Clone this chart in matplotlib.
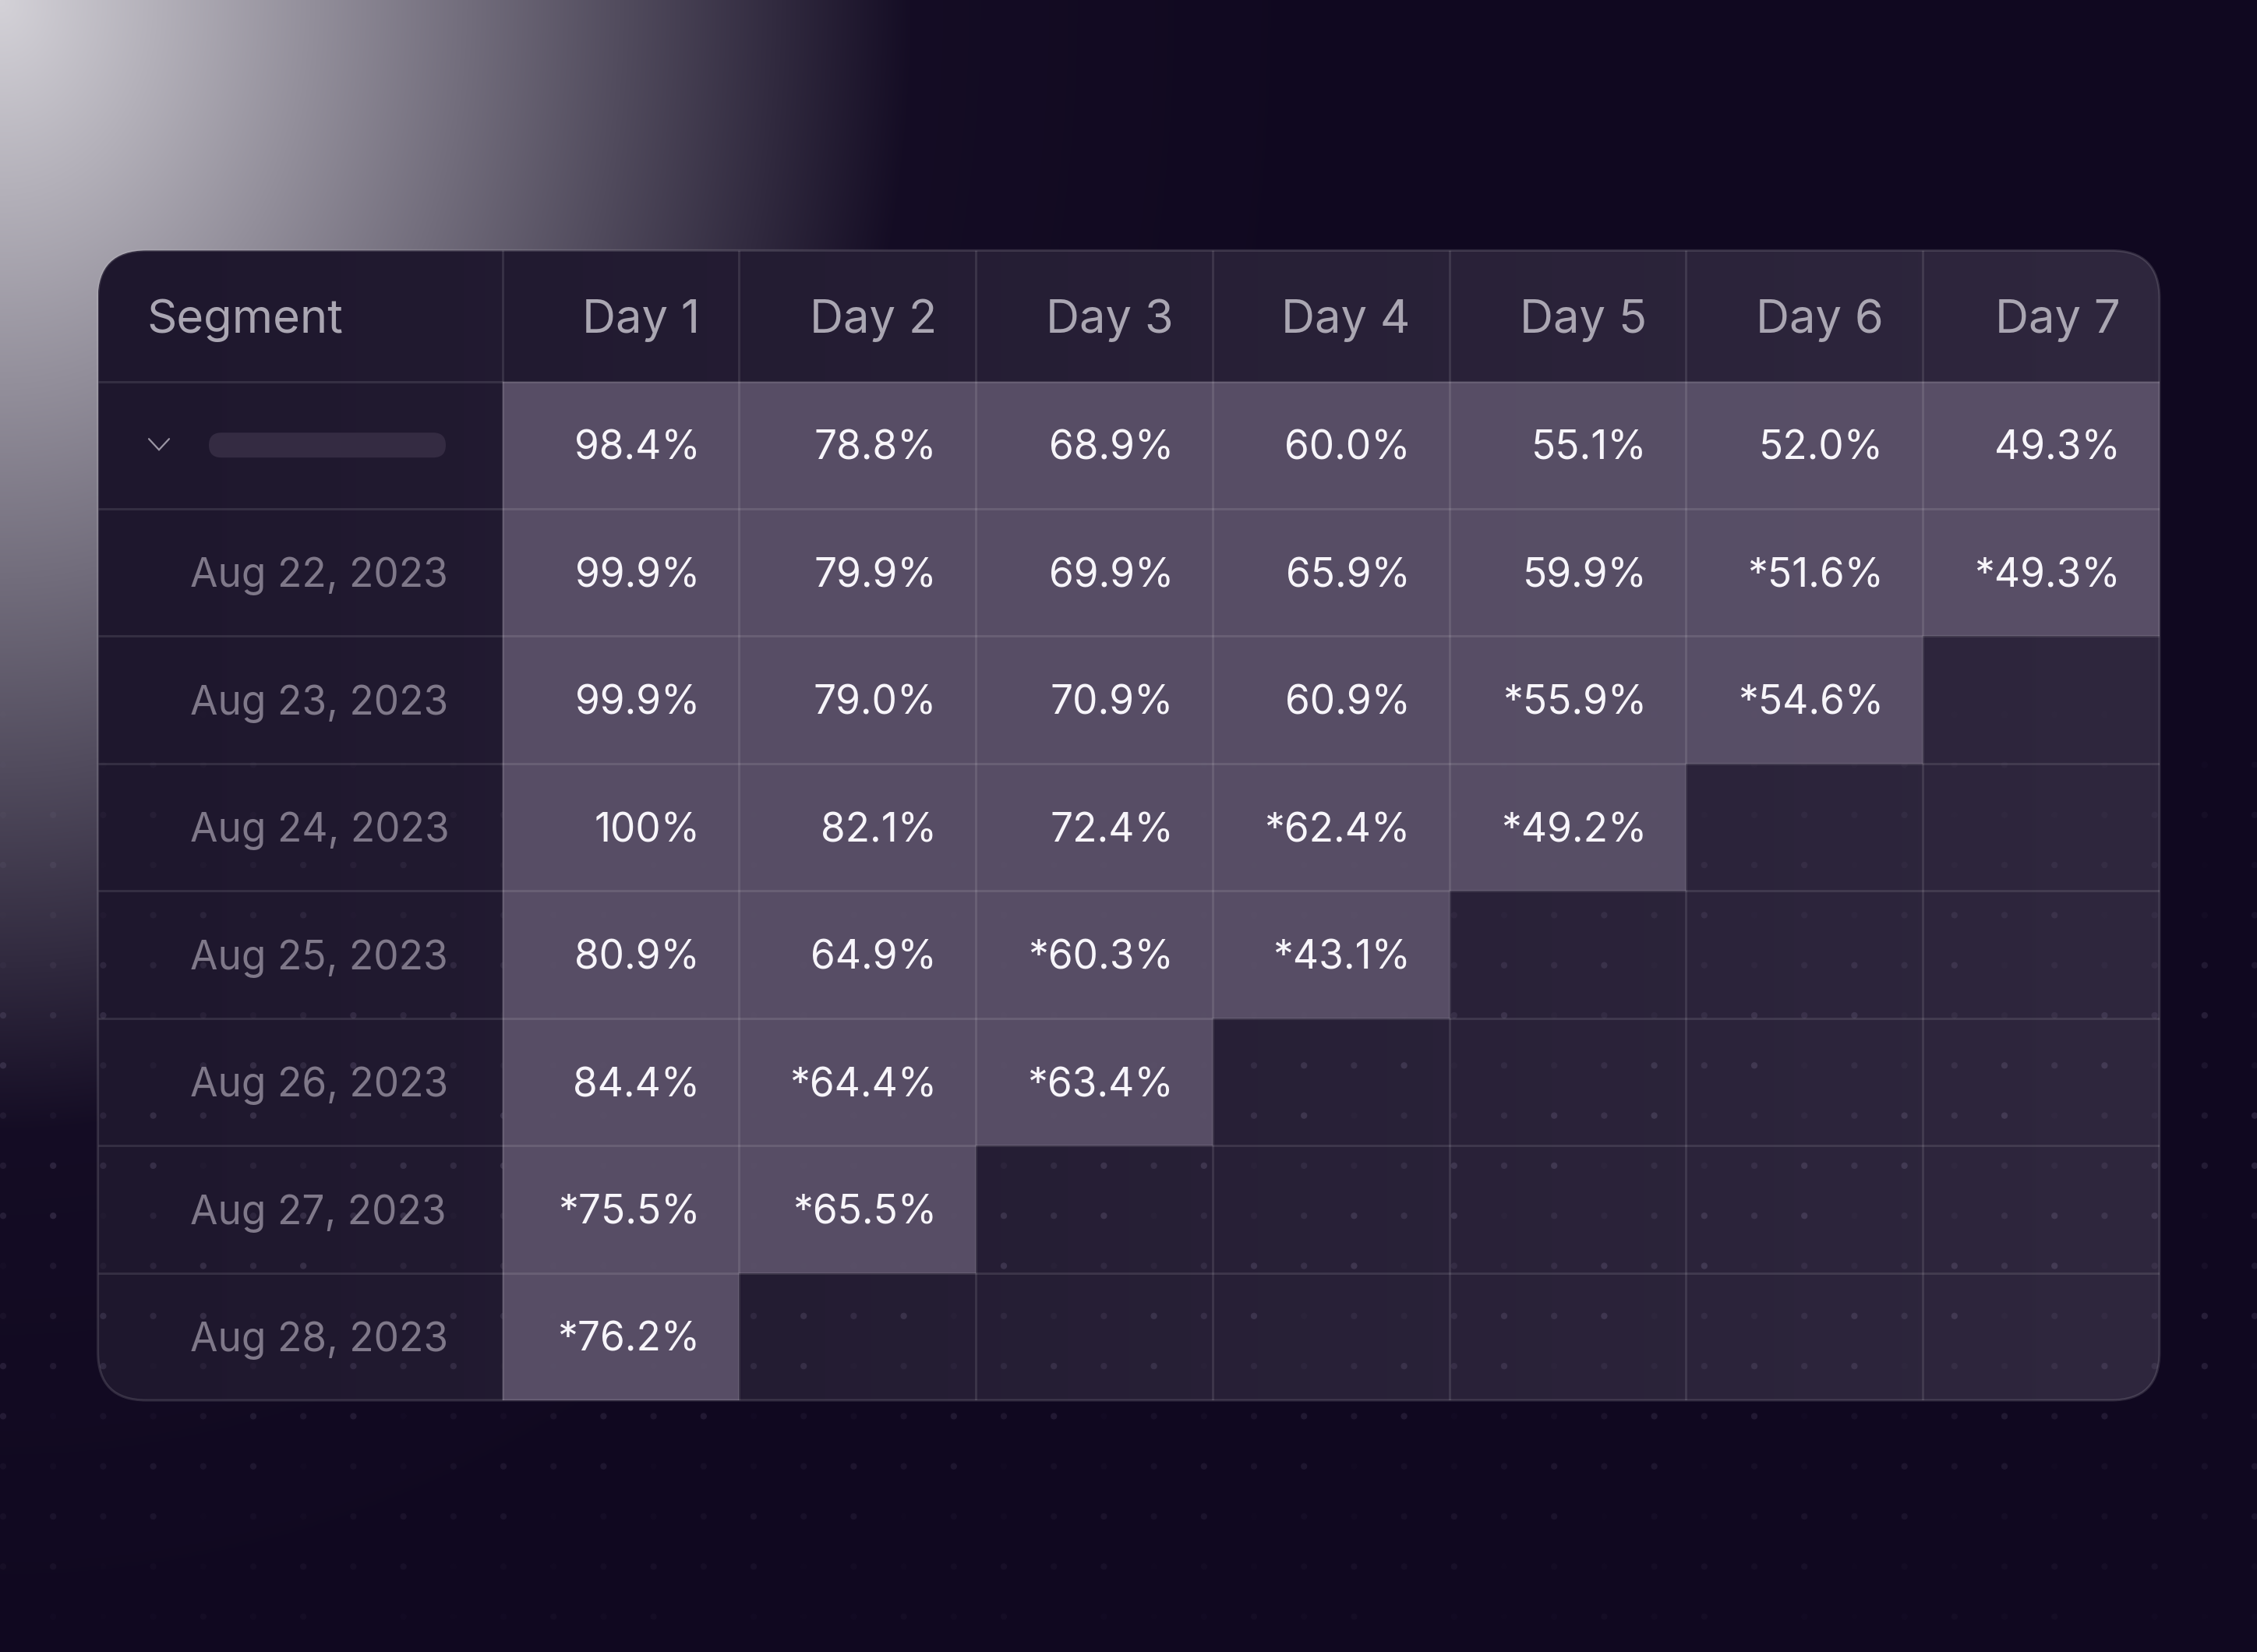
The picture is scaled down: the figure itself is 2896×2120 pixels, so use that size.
import numpy as np
import matplotlib.pyplot as plt
from matplotlib.patches import FancyBboxPatch, Rectangle

# ---- data ----
days = ["Day 1", "Day 2", "Day 3", "Day 4", "Day 5", "Day 6", "Day 7"]
cohorts = ["Aug 22, 2023", "Aug 23, 2023", "Aug 24, 2023", "Aug 25, 2023",
           "Aug 26, 2023", "Aug 27, 2023", "Aug 28, 2023"]
overall = [98.4, 78.8, 68.9, 60.0, 55.1, 52.0, 49.3]
retention = [
    [99.9, 79.9, 69.9, 65.9, 59.9, 51.6, 49.3],
    [99.9, 79.0, 70.9, 60.9, 55.9, 54.6],
    [100, 82.1, 72.4, 62.4, 49.2],
    [80.9, 64.9, 60.3, 43.1],
    [84.4, 64.4, 63.4],
    [75.5, 65.5],
    [76.2],
]
# number of trailing (estimated) values per cohort, shown with a "*"
estimated = [2, 2, 2, 2, 2, 2, 1]

W, H = 2896, 2120
FONT = ["Inter", "DejaVu Sans"]


def fmt(v, star=False):
    s = "100%" if v == 100 else f"{v:.1f}%"
    return ("*" + s) if star else s


fig = plt.figure(figsize=(W / 100, H / 100), dpi=100)
ax = fig.add_axes([0, 0, 1, 1])
ax.set_xlim(0, W)
ax.set_ylim(H, 0)
ax.axis("off")

# ---- background with glow in the top-left corner ----
gx, gy = np.meshgrid(np.linspace(0, W, 1448), np.linspace(0, H, 1060))
t = np.sqrt((gx / 1170.0) ** 2 + (gy / 1450.0) ** 2)
f = 0.93 * np.clip(1 - t, 0, 1) + 0.07 * np.clip(1 - t / 1.5, 0, 1)
light = np.array([212, 210, 216]) / 255
dark = np.array([16, 8, 32]) / 255
bg = dark[None, None, :] + (light - dark)[None, None, :] * f[..., None]
ax.imshow(bg, extent=(0, W, H, 0), aspect="auto", zorder=0, interpolation="bilinear")

# ---- table geometry ----
L, R = 125.6, 2771.0
T, B = 321.4, 1797.0
seg_right = 644.6
col_w = (R - seg_right) / len(days)
head_bot = 489.5
row_h = (B - head_bot) / (len(cohorts) + 1)
x_edges = [seg_right + i * col_w for i in range(len(days) + 1)]
y_edges = [head_bot + i * row_h for i in range(len(cohorts) + 2)]

table = FancyBboxPatch((L, T), R - L, B - T, boxstyle="round,pad=0,rounding_size=62",
                       facecolor="none", edgecolor=(1, 1, 1, 0.13), linewidth=2.2, zorder=6)
ax.add_patch(table)

tx = np.linspace(0, 1, 400)
c_left = np.array([30, 23, 45]) / 255
c_right = np.array([47, 39, 62]) / 255
tb = c_left[None, None, :] * (1 - tx[None, :, None]) + c_right[None, None, :] * tx[None, :, None]
tb = np.repeat(tb, 4, axis=0)
im = ax.imshow(tb, extent=(L, R, B, T), aspect="auto", zorder=1)
im.set_clip_path(table)

# ---- dotted pattern ----
xs = np.arange(4, W + 1, 64.2)
ys = np.arange(17, H + 1, 64.3)
levels = [1.0, 0.3, 0.75, 0.5, 0.95, 0.15, 0.6]
px, py, cols = [], [], []
for i, yy in enumerate(ys):
    env = np.clip((yy - 880) / 500, 0, 1) * np.clip((2180 - yy) / 520, 0, 1)
    for j, xx in enumerate(xs):
        a = 0.14 * env * levels[(i * 3 + j * 5) % 7]
        if a <= 0:
            continue
        px.append(xx)
        py.append(yy)
        cols.append((0.8, 0.75, 0.9, a))
ax.scatter(px, py, s=36, c=cols, linewidths=0, zorder=2)

# ---- filled cells ----
cell_color = "#5a5068"
rows = [overall] + retention
for r, vals in enumerate(rows):
    for c, v in enumerate(vals):
        rect = Rectangle((x_edges[c], y_edges[r]), col_w, row_h,
                         facecolor=cell_color, edgecolor="none", alpha=0.96, zorder=3)
        ax.add_patch(rect)
        rect.set_clip_path(table)

# ---- grid lines ----
grid_col = (1, 1, 1, 0.1)
hl = ax.hlines(y_edges[:-1], L, R, colors=[grid_col], linewidth=2.2, zorder=4)
vl = ax.vlines(x_edges[:-1], T, B, colors=[grid_col], linewidth=2.2, zorder=4)
hl.set_clip_path(table)
vl.set_clip_path(table)

# ---- text ----
head_pt = 43
data_pt = 37
cap = 0.727


def baseline(center, pt):
    return center + cap * pt * 100 / 72 / 2


head_c = (T + head_bot) / 2
ax.text(188, baseline(head_c, head_pt), "Segment", fontsize=head_pt, color="#aaa6b2",
        family=FONT, ha="left", va="baseline", zorder=7)
for c, day in enumerate(days):
    ax.text(x_edges[c + 1] - 50, baseline(head_c, head_pt), day, fontsize=head_pt,
            color="#aaa6b2", family=FONT, ha="right", va="baseline", zorder=7)

for r, vals in enumerate(rows):
    yc = (y_edges[r] + y_edges[r + 1]) / 2
    n_est = 0 if r == 0 else estimated[r - 1]
    for c, v in enumerate(vals):
        star = c >= len(vals) - n_est
        ax.text(x_edges[c + 1] - 50, baseline(yc, data_pt), fmt(v, star), fontsize=data_pt,
                color="#f7f5fa", family=FONT, ha="right", va="baseline", zorder=7)
    if r > 0:
        ax.text(244, baseline(yc, data_pt), cohorts[r - 1], fontsize=data_pt,
                color="#7f7889", family=FONT, ha="left", va="baseline", zorder=7)

# summary row: chevron and placeholder label
yc0 = (y_edges[0] + y_edges[1]) / 2
ax.plot([191, 204, 217], [yc0 - 8, yc0 + 6, yc0 - 8], color="#9a95a3", linewidth=1.6,
        solid_capstyle="round", solid_joinstyle="miter", zorder=7)
pill = FancyBboxPatch((268, yc0 - 16), 304, 32, boxstyle="round,pad=0,rounding_size=16",
                      facecolor="#342b42", edgecolor="none", zorder=7)
ax.add_patch(pill)

fig.savefig("out.png", dpi=100)
